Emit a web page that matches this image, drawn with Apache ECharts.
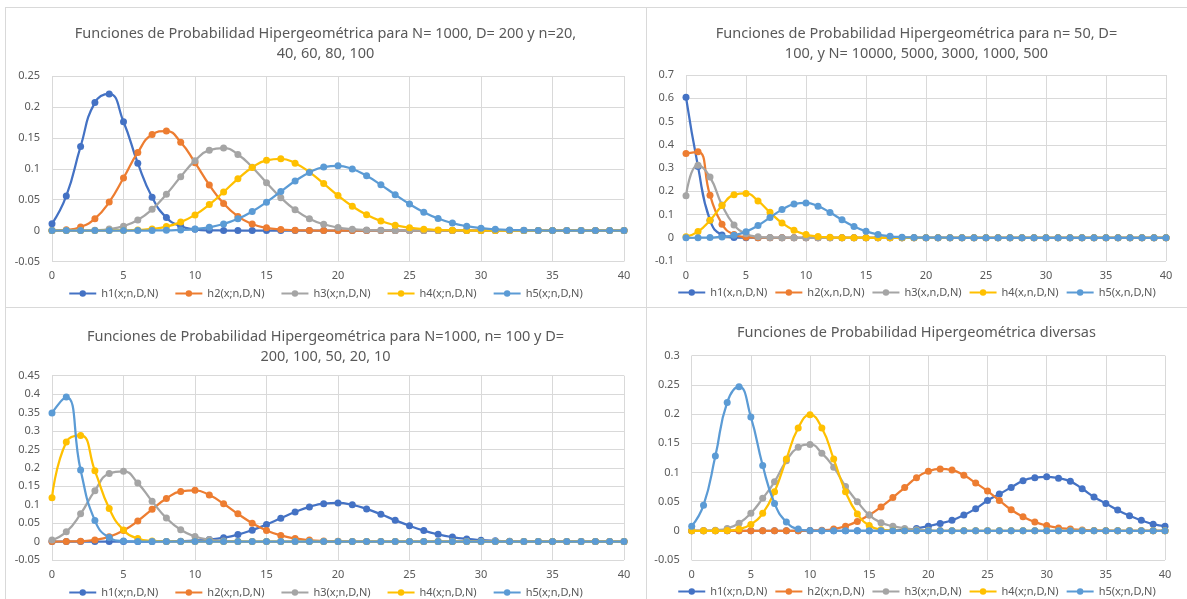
<!DOCTYPE html>
<html><head><meta charset="utf-8">
<script src="https://cdn.jsdelivr.net/npm/echarts@6/dist/echarts.min.js"></script>
<style>
html,body{margin:0;padding:0;background:#fff;width:1187px;height:599px;overflow:hidden;}
.panel{position:absolute;}
.ln{position:absolute;background:#d9d9d9;}
</style></head><body>
<div class="ln" style="left:5px;top:7px;width:1182px;height:1px"></div>
<div class="ln" style="left:5px;top:307px;width:1182px;height:1px"></div>
<div class="ln" style="left:5px;top:7px;width:1px;height:592px"></div>
<div class="ln" style="left:646px;top:7px;width:1px;height:592px"></div>
<div id="c1" class="panel" style="left:5px;top:7px;width:641px;height:300px"></div>
<div id="c2" class="panel" style="left:646px;top:7px;width:541px;height:300px"></div>
<div id="c3" class="panel" style="left:5px;top:307px;width:641px;height:292px"></div>
<div id="c4" class="panel" style="left:646px;top:307px;width:541px;height:292px"></div>
<script>
// x values (shared by all charts)
const xs = [0,1,2,3,4,5,6,7,8,9,10,11,12,13,14,15,16,17,18,19,20,21,22,23,24,25,26,27,28,29,30,31,32,33,34,35,36,37,38,39,40];

const namesSemi = ['h1(x;n,D,N)','h2(x;n,D,N)','h3(x;n,D,N)','h4(x;n,D,N)','h5(x;n,D,N)'];
const namesComma = ['h1(x,n,D,N)','h2(x,n,D,N)','h3(x,n,D,N)','h4(x,n,D,N)','h5(x,n,D,N)'];

const title1 = 'Funciones de Probabilidad Hipergeométrica para N= 1000, D= 200 y n=20,\n40, 60, 80, 100';
const title2 = 'Funciones de Probabilidad Hipergeométrica para n= 50, D=\n100, y N= 10000, 5000, 3000, 1000, 500';
const title3 = 'Funciones de Probabilidad Hipergeométrica para N=1000, n= 100 y D=\n200, 100, 50, 20, 10';
const title4 = 'Funciones de Probabilidad Hipergeométrica diversas';

// Chart 1: N=1000, D=200, n=20..100
const c1_h1 = [0.011,0.056,0.136,0.207,0.221,0.176,0.109,0.054,0.021,0.007,0.002,0.0004,0.0001,0,0,0,0,0,0,0,0,0,0,0,0,0,0,0,0,0,0,0,0,0,0,0,0,0,0,0,0];
const c1_h2 = [0.0001,0.0012,0.0059,0.0193,0.0461,0.0851,0.1264,0.1553,0.161,0.1429,0.1099,0.0739,0.0437,0.0229,0.0107,0.0044,0.0017,0.0006,0.0002,0.0001,0,0,0,0,0,0,0,0,0,0,0,0,0,0,0,0,0,0,0,0,0];
const c1_h3 = [0,0,0.0001,0.0006,0.0024,0.0072,0.0172,0.0344,0.0588,0.0871,0.1131,0.1301,0.1335,0.1231,0.1025,0.0774,0.0533,0.0335,0.0193,0.0102,0.005,0.0023,0.0009,0.0004,0.0001,0,0,0,0,0,0,0,0,0,0,0,0,0,0,0,0];
const c1_h4 = [0,0,0,0,0.0001,0.0003,0.001,0.0027,0.0065,0.0137,0.0254,0.042,0.0624,0.0837,0.102,0.1136,0.116,0.109,0.0946,0.076,0.0567,0.0394,0.0255,0.0154,0.0087,0.0046,0.0023,0.0011,0.0005,0.0002,0.0001,0,0,0,0,0,0,0,0,0,0];
const c1_h5 = [0,0,0,0,0,0,0,0.0001,0.0004,0.001,0.0025,0.0054,0.0106,0.019,0.0309,0.046,0.0632,0.0801,0.0941,0.1028,0.1047,0.0996,0.0887,0.074,0.0581,0.0429,0.0298,0.0196,0.0121,0.0071,0.0039,0.0021,0.001,0.0005,0.0002,0.0001,0,0,0,0,0];

// Chart 2: n=50, D=100, N=10000..500
const c2_h1 = [0.6042,0.3067,0.0755,0.012,0.0014,0.0001,0,0,0,0,0,0,0,0,0,0,0,0,0,0,0,0,0,0,0,0,0,0,0,0,0,0,0,0,0,0,0,0,0,0,0];
const c2_h2 = [0.3623,0.3696,0.1829,0.0585,0.0136,0.0025,0.0004,0,0,0,0,0,0,0,0,0,0,0,0,0,0,0,0,0,0,0,0,0,0,0,0,0,0,0,0,0,0,0,0,0,0];
const c2_h3 = [0.181,0.312,0.2608,0.1408,0.0553,0.0168,0.0041,0.0008,0.0001,0,0,0,0,0,0,0,0,0,0,0,0,0,0,0,0,0,0,0,0,0,0,0,0,0,0,0,0,0,0,0,0];
const c2_h4 = [0.0045,0.0264,0.0752,0.1382,0.1845,0.1906,0.1586,0.1094,0.0637,0.0319,0.0138,0.0053,0.0018,0.0005,0.0001,0,0,0,0,0,0,0,0,0,0,0,0,0,0,0,0,0,0,0,0,0,0,0,0,0,0];
const c2_h5 = [0,0.0001,0.0007,0.0033,0.0105,0.0262,0.0524,0.0867,0.121,0.1447,0.15,0.136,0.1087,0.077,0.0486,0.0275,0.014,0.0064,0.0026,0.001,0.0003,0.0001,0,0,0,0,0,0,0,0,0,0,0,0,0,0,0,0,0,0,0];

// Chart 3: N=1000, n=100, D=200..10
const c3_h1 = [0,0,0,0,0,0,0,0.0001,0.0004,0.001,0.0025,0.0054,0.0106,0.019,0.0309,0.046,0.0632,0.0801,0.0941,0.1028,0.1047,0.0996,0.0887,0.074,0.0581,0.0429,0.0298,0.0196,0.0121,0.0071,0.0039,0.0021,0.001,0.0005,0.0002,0.0001,0,0,0,0,0];
const c3_h2 = [0,0.0002,0.0011,0.0045,0.0131,0.03,0.0559,0.0874,0.117,0.136,0.139,0.1262,0.1026,0.0752,0.0499,0.0302,0.0167,0.0085,0.004,0.0017,0.0007,0.0003,0.0001,0,0,0,0,0,0,0,0,0,0,0,0,0,0,0,0,0,0];
const c3_h3 = [0.0045,0.0264,0.0752,0.1382,0.1845,0.1906,0.1586,0.1094,0.0637,0.0319,0.0138,0.0053,0.0018,0.0005,0.0001,0,0,0,0,0,0,0,0,0,0,0,0,0,0,0,0,0,0,0,0,0,0,0,0,0,0];
const c3_h4 = [0.119,0.2702,0.2881,0.1919,0.0895,0.0311,0.0083,0.0018,0.0003,0,0,0,0,0,0,0,0,0,0,0,0,0,0,0,0,0,0,0,0,0,0,0,0,0,0,0,0,0,0,0,0];
const c3_h5 = [0.349,0.392,0.1944,0.0569,0.0108,0.0014,0.0001,0,0,0,0,0,0,0,0,0,0,0,0,0,0,0,0,0,0,0,0,0,0,0,0,0,0,0,0,0,0,0,0,0,0];

// Chart 4: various
const c4_h1 = [0,0,0,0,0,0,0,0,0,0,0,0,0,0,0,0,0,0.0005,0.0015,0.004,0.008,0.0126,0.018,0.027,0.038,0.052,0.063,0.0744,0.0858,0.091,0.0925,0.09,0.0847,0.072,0.058,0.047,0.0355,0.0257,0.018,0.0114,0.008];
const c4_h2 = [0,0,0,0,0,0,0,0,0,0,0.0005,0.001,0.003,0.008,0.016,0.027,0.041,0.057,0.074,0.091,0.102,0.106,0.104,0.095,0.082,0.068,0.052,0.036,0.024,0.015,0.009,0.005,0.003,0.0015,0.0007,0.0003,0,0,0,0,0];
const c4_h3 = [0,0,0.001,0.004,0.013,0.03,0.0556,0.084,0.12,0.143,0.148,0.133,0.109,0.076,0.05,0.027,0.014,0.008,0.004,0.002,0.001,0,0,0,0,0,0,0,0,0,0,0,0,0,0,0,0,0,0,0,0];
const c4_h4 = [0,0,0,0.0005,0.003,0.011,0.03,0.067,0.123,0.176,0.199,0.176,0.123,0.067,0.029,0.009,0.002,0.0005,0,0,0,0,0,0,0,0,0,0,0,0,0,0,0,0,0,0,0,0,0,0,0];
const c4_h5 = [0.008,0.044,0.128,0.22,0.247,0.195,0.112,0.047,0.015,0.003,0.0005,0,0,0,0,0,0,0,0,0,0,0,0,0,0,0,0,0,0,0,0,0,0,0,0,0,0,0,0,0,0];

const colors = ['#4472C4','#ED7D31','#A5A5A5','#FFC000','#5B9BD5'];
const FONT = 'Noto Sans';
const TXT = '#595959';
const GRIDC = '#d9d9d9';

function build(id, cfg) {
  const chart = echarts.init(document.getElementById(id), null, {renderer: 'canvas'});
  const series = cfg.values.map((vals, i) => ({
    name: cfg.names[i],
    type: 'line',
    data: xs.map((x, j) => [x, vals[j]]),
    smooth: true,
    symbol: 'circle',
    symbolSize: 7,
    showSymbol: true,
    lineStyle: {width: 2.25, color: colors[i]},
    itemStyle: {color: colors[i]},
    z: 2 + i
  }));
  chart.setOption({
    animation: false,
    textStyle: {fontFamily: FONT},
    title: {
      text: cfg.title, left: 'center', top: cfg.titleTop,
      textStyle: {fontSize: 14.5, fontWeight: 'normal', color: TXT, lineHeight: 20, fontFamily: FONT}
    },
    legend: {
      data: cfg.names, left: 'center', top: cfg.legendTop, itemWidth: 27, itemHeight: 8,
      itemGap: cfg.legendGap, textStyle: {fontSize: 11, color: TXT, fontFamily: FONT}
    },
    grid: Object.assign({containLabel: false}, cfg.grid),
    xAxis: {
      type: 'value', min: 0, max: 40, interval: 5,
      axisLine: {show: true, onZero: true, lineStyle: {color: GRIDC, width: 1}},
      axisTick: {show: false},
      axisLabel: {color: TXT, fontSize: 11, margin: 9, fontFamily: FONT},
      splitLine: {show: true, lineStyle: {color: GRIDC, width: 1}}
    },
    yAxis: {
      type: 'value', min: cfg.yMin, max: cfg.yMax, interval: cfg.yInt,
      axisLine: {show: false}, axisTick: {show: false},
      axisLabel: {color: TXT, fontSize: 11, margin: 12, fontFamily: FONT},
      splitLine: {show: true, lineStyle: {color: GRIDC, width: 1}}
    },
    series: series
  });
}

build('c1', {title: title1, titleTop: 12, names: namesSemi,
  values: [c1_h1, c1_h2, c1_h3, c1_h4, c1_h5], yMin: -0.05, yMax: 0.25, yInt: 0.05,
  grid: {left: 47, top: 69, width: 572, height: 185.5}, legendTop: 276, legendGap: 16});
build('c2', {title: title2, titleTop: 12, names: namesComma,
  values: [c2_h1, c2_h2, c2_h3, c2_h4, c2_h5], yMin: -0.1, yMax: 0.7, yInt: 0.1,
  grid: {left: 40, top: 68, width: 480, height: 186}, legendTop: 275, legendGap: 7});
build('c3', {title: title3, titleTop: 15, names: namesSemi,
  values: [c3_h1, c3_h2, c3_h3, c3_h4, c3_h5], yMin: -0.05, yMax: 0.45, yInt: 0.05,
  grid: {left: 47, top: 68.7, width: 572, height: 184.3}, legendTop: 275, legendGap: 16});
build('c4', {title: title4, titleTop: 11, names: namesSemi,
  values: [c4_h1, c4_h2, c4_h3, c4_h4, c4_h5], yMin: -0.05, yMax: 0.3, yInt: 0.05,
  grid: {left: 45.7, top: 48.7, width: 473.3, height: 204.3}, legendTop: 274, legendGap: 7});
</script>
</body></html>
